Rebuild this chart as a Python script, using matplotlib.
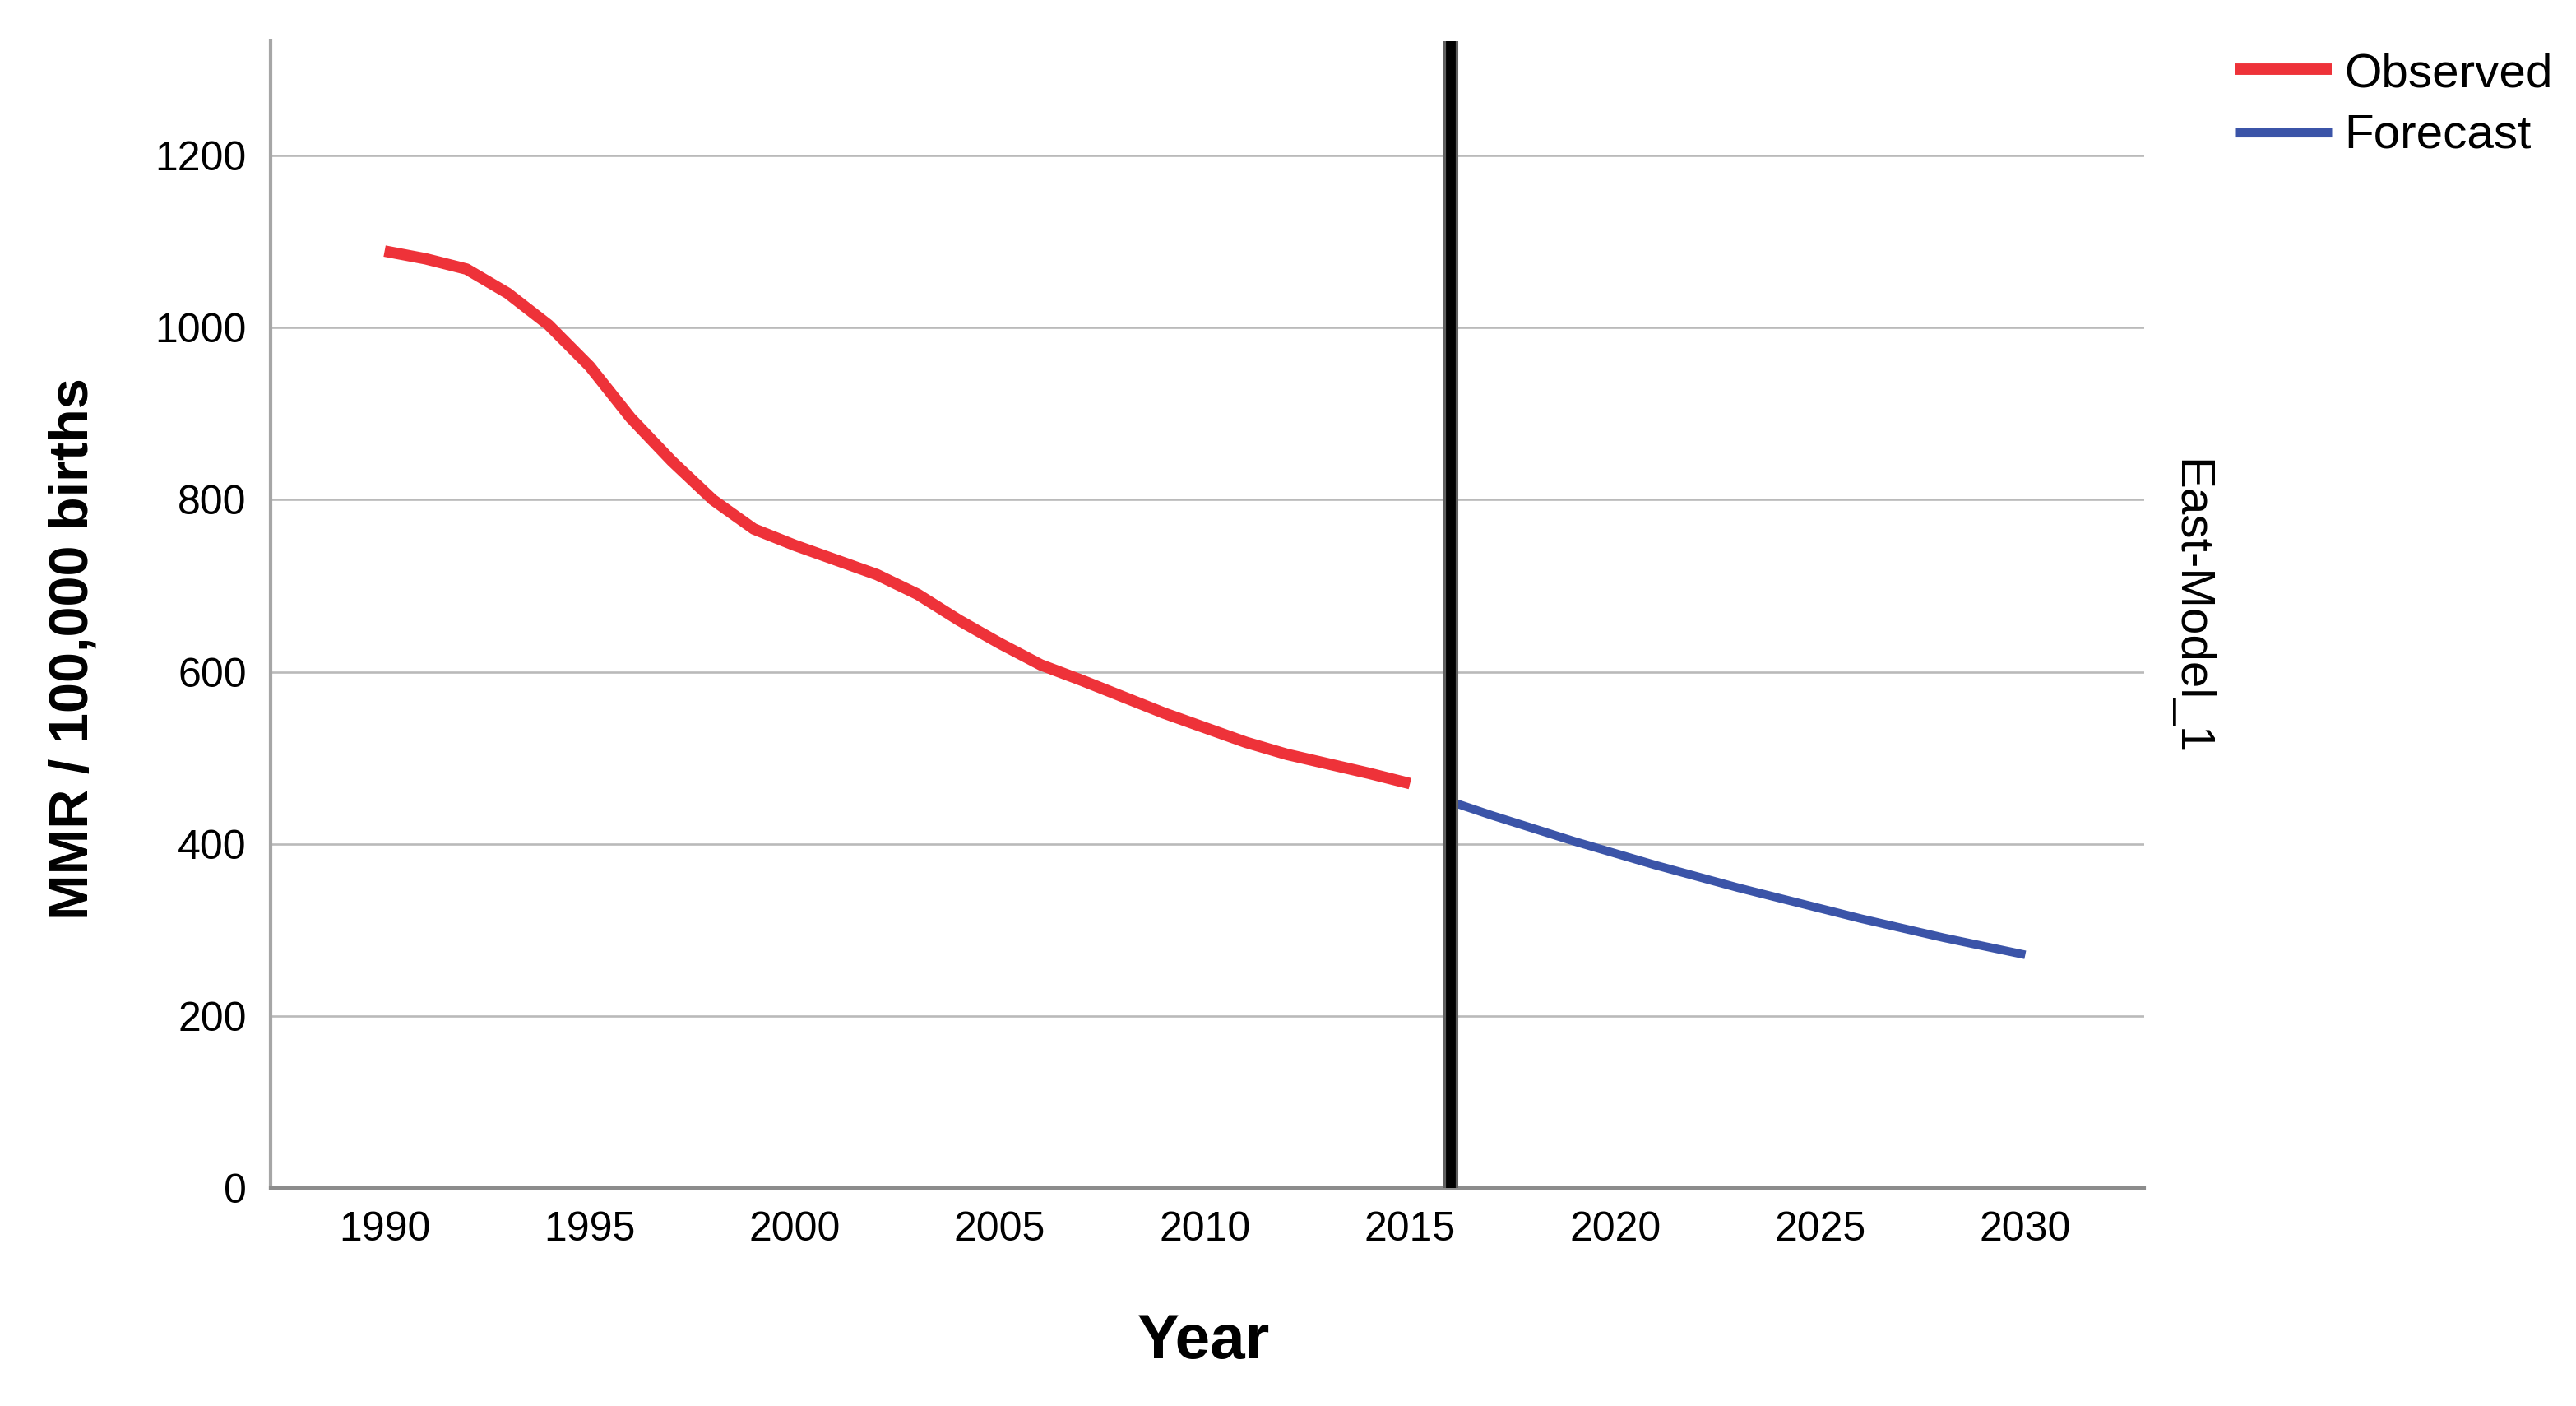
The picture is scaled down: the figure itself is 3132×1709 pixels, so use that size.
import matplotlib
matplotlib.use("Agg")
import matplotlib.pyplot as plt
from matplotlib.lines import Line2D

plt.rcParams['font.family'] = ['Liberation Sans', 'DejaVu Sans']

# ---- data ----
obs_years = list(range(1990, 2016))
obs_values = [1089, 1080, 1068, 1040, 1003, 955, 895, 845, 800, 766,
              747, 730, 713, 690, 660, 633, 608, 590, 571, 552,
              535, 518, 504, 493, 482, 470]
fc_years = list(range(2016, 2031))
fc_values = [449, 433, 418, 403, 389, 375, 362, 349, 337, 325,
             313, 302, 291, 281, 271]
split_year = 2016
x_ticks = [1990, 1995, 2000, 2005, 2010, 2015, 2020, 2025, 2030]
y_ticks = [0, 200, 400, 600, 800, 1000, 1200]
series_labels = ['Observed', 'Forecast']
panel_label = 'East-Model_1'

RED = '#EE3239'
BLUE = '#3B54A8'

W, H = 3132, 1709
fig = plt.figure(figsize=(W / 100, H / 100), dpi=100)
ax = fig.add_axes([329 / W, 1 - 1444 / H, (2607 - 329) / W, (1444 - 50) / H])

ax.set_xlim(1987.22, 2032.9)
ax.set_ylim(0, 1333)

for yv in y_ticks[1:]:
    ax.axhline(yv, color='#bababa', lw=1.9, zorder=1)

ax.plot(obs_years, obs_values, color=RED, lw=10, solid_capstyle='butt',
        solid_joinstyle='round', zorder=3)
ax.plot(fc_years, fc_values, color=BLUE, lw=7.5, solid_capstyle='butt',
        solid_joinstyle='round', zorder=3)

ax.axvline(split_year, color='#606060', lw=13, zorder=4)
ax.axvline(split_year, color='black', lw=8.5, zorder=5)

ax.set_xticks(x_ticks)
ax.set_yticks(y_ticks)
ax.tick_params(axis='both', length=0, labelsize=36, colors='black')
ax.tick_params(axis='x', pad=20)
ax.tick_params(axis='y', pad=21)

for s in ['top', 'right']:
    ax.spines[s].set_visible(False)
ax.spines['left'].set_color('#a6a6a6')
ax.spines['left'].set_linewidth(3)
ax.spines['bottom'].set_color('#8c8c8c')
ax.spines['bottom'].set_linewidth(3)
ax.set_facecolor('white')

fig.text(90 / W, 1 - 789 / H, 'MMR / 100,000 births', rotation=90,
         ha='center', va='center', fontsize=48, fontweight='bold')
fig.text(1463 / W, 1 - 1631 / H, 'Year', ha='center', va='center',
         fontsize=55, fontweight='bold')
fig.text(2662 / W, 1 - 738 / H, panel_label, rotation=-90,
         ha='center', va='center', fontsize=42)

# legend
for lab, col, lw, ly, ty in [(series_labels[0], RED, 10, 84, 90),
                             (series_labels[1], BLUE, 8, 161, 165)]:
    fig.add_artist(Line2D([2718 / W, 2835 / W], [1 - ly / H, 1 - ly / H],
                          color=col, lw=lw, solid_capstyle='butt'))
    fig.text(2850 / W, 1 - ty / H, lab, ha='left', va='center', fontsize=42)

fig.savefig('out.png', dpi=100, facecolor='white')
